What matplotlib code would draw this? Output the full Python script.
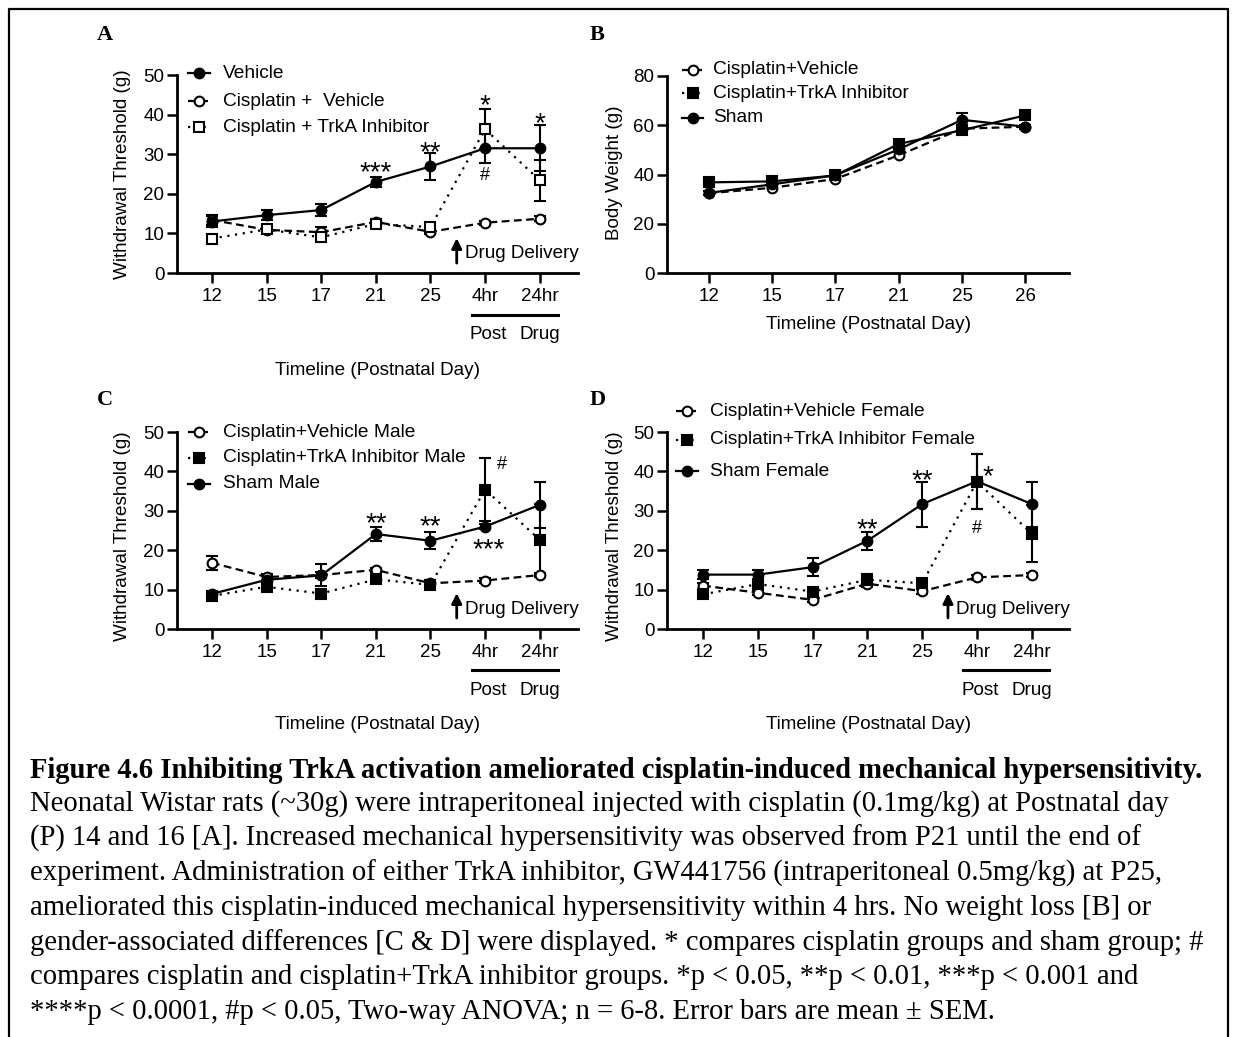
import matplotlib
matplotlib.use('Agg')
import matplotlib.pyplot as plt
from matplotlib.lines import Line2D
from matplotlib.transforms import blended_transform_factory

W, H = 1235, 1037
plt.rcParams['font.family'] = ['Liberation Sans', 'DejaVu Sans']

# ---- data ----
days_a = ['12', '15', '17', '21', '25', '4hr', '24hr']
days_b = ['12', '15', '17', '21', '25', '26']

# A: withdrawal threshold (g)
a_vehicle = [13.0, 14.6, 15.9, 23.0, 26.9, 31.5, 31.5]
a_vehicle_err = [1.5, 1.3, 1.5, 1.3, 3.3, 3.8, 5.8]
a_cis_veh = [13.4, 10.9, 10.3, 12.9, 10.4, 12.7, 13.7]
a_cis_veh_err = [1.2, 0.8, 1.3, 0.6, 0.6, 0.5, 0.6]
a_trka = [8.7, 11.0, 9.0, 12.4, 11.6, 36.3, 23.4]
a_trka_err = [0.6, 0.6, 1.0, 0.6, 0.6, 5.1, 5.1]

# B: body weight (g)
b_cis_veh = [32.4, 34.6, 38.2, 47.8, 58.6, 59.4]
b_trka = [36.8, 37.2, 39.6, 52.4, 58.0, 64.0]
b_sham = [32.5, 36.0, 39.7, 50.2, 62.2, 59.4]
b_sham_err = [0.8, 0.8, 0.6, 1.2, 2.6, 0.8]

# C: male
c_cis_veh = [16.8, 13.2, 13.7, 15.0, 11.6, 12.3, 13.7]
c_cis_veh_err = [1.7, 0.8, 0.8, 0.6, 0.8, 0.6, 0.6]
c_trka = [8.4, 10.7, 9.0, 12.6, 11.2, 35.4, 22.6]
c_trka_err = [0.6, 0.8, 1.0, 0.8, 0.8, 8.0, 9.0]
c_sham = [8.9, 12.5, 13.6, 24.1, 22.4, 26.0, 31.5]
c_sham_err = [0.6, 1.2, 2.8, 1.8, 2.2, 0.6, 5.8]

# D: female
d_cis_veh = [11.0, 9.2, 7.4, 11.5, 9.6, 13.1, 13.7]
d_cis_veh_err = [0.8, 0.6, 0.6, 0.8, 0.6, 0.6, 0.6]
d_trka = [8.8, 11.4, 9.5, 12.5, 11.6, 37.4, 24.2]
d_trka_err = [0.6, 0.8, 0.8, 1.5, 0.8, 7.0, 7.2]
d_sham = [13.8, 13.8, 15.7, 22.4, 31.7, 37.5, 31.7]
d_sham_err = [1.2, 1.2, 2.2, 2.3, 5.7, 7.0, 5.7]

# significance marks: (text, x index, y)
a_marks = [('***', 3, 26.9), ('**', 4, 32.1), ('*', 5, 44.0), ('#', 5, 24.5), ('*', 6, 39.5)]
c_marks = [('**', 3, 28.5), ('**', 4, 27.7), ('#', 5.3, 41.8), ('***', 5.06, 21.8)]
d_marks = [('**', 3, 26.8), ('**', 4, 39.2), ('*', 5.2, 40.3), ('#', 5, 25.5)]

caption_title = ("Figure 4.6 Inhibiting TrkA activation ameliorated "
                 "cisplatin-induced mechanical hypersensitivity.")
caption_lines = [
    "Neonatal Wistar rats (~30g) were intraperitoneal injected with cisplatin (0.1mg/kg) at Postnatal day",
    "(P) 14 and 16 [A]. Increased mechanical hypersensitivity was observed from P21 until the end of",
    "experiment. Administration of either TrkA inhibitor, GW441756 (intraperitoneal 0.5mg/kg) at P25,",
    "ameliorated this cisplatin-induced mechanical hypersensitivity within 4 hrs. No weight loss [B] or",
    "gender-associated differences [C & D] were displayed. * compares cisplatin groups and sham group; #",
    "compares cisplatin and cisplatin+TrkA inhibitor groups. *p < 0.05, **p < 0.01, ***p < 0.001 and",
    "****p < 0.0001, #p < 0.05, Two-way ANOVA; n = 6-8. Error bars are mean \u00b1 SEM.",
]

# ---- styles ----
DASH = (0, (3.5, 2))
DOT = (0, (1, 2.5))
solid_dot = dict(ls='-', marker='o', mfc='k', mec='k')
dash_open = dict(ls=DASH, marker='o', mfc='white', mec='k')
dot_open_sq = dict(ls=DOT, marker='s', mfc='white', mec='k')
dot_fill_sq = dict(ls=DOT, marker='s', mfc='k', mec='k')
solid_sq = dict(ls='-', marker='s', mfc='k', mec='k')

FS = 13.6  # axis text size

fig = plt.figure(figsize=(W / 100, H / 100), dpi=100)


def px_axes(left, top, right, bottom):
    return fig.add_axes([left / W, 1 - bottom / H, (right - left) / W, (bottom - top) / H])


def style_axes(ax, labels, ymax, ystep, xlim):
    ax.set_xlim(*xlim)
    ax.set_ylim(0, ymax)
    ax.set_xticks(range(len(labels)), labels)
    ax.set_yticks(range(0, ymax + 1, ystep))
    for s in ['top', 'right']:
        ax.spines[s].set_visible(False)
    for s in ['left', 'bottom']:
        ax.spines[s].set_linewidth(2)
    ax.tick_params(width=1.8, length=7, labelsize=13.5)
    ax.tick_params(axis='x', pad=3.5)
    ax.tick_params(axis='y', pad=2)


def series(ax, y, err, style):
    x = range(len(y))
    if err is not None:
        ax.errorbar(x, y, yerr=err, fmt='none', ecolor='k', elinewidth=1.5,
                    capsize=4, capthick=1.5, zorder=2)
    ax.plot(x, y, color='k', lw=1.6, ms=7, mew=1.5, zorder=3, clip_on=False, **style)


def legend(entries, x0, x1, xt, ys):
    for (label, style), y in zip(entries, ys):
        fy = 1 - y / H
        ln = Line2D([x0 / W, (x0 + x1) / 2 / W, x1 / W], [fy] * 3, transform=fig.transFigure,
                    color='k', lw=1.6, ms=7, mew=1.5, markevery=[1], **style)
        fig.add_artist(ln)
        fig.text(xt / W, fy, label, va='center', ha='left', fontsize=13.8)


def post_drug(ax, x0, x1, yl, yt):
    tr = blended_transform_factory(ax.transData, ax.transAxes)
    ax.plot([x0, x1], [yl, yl], transform=tr, clip_on=False, color='k', lw=2.2)
    ax.text(5.05, yt, 'Post', transform=tr, ha='center', va='center', fontsize=FS)
    ax.text(6.0, yt, 'Drug', transform=tr, ha='center', va='center', fontsize=FS)


def drug_delivery(ax, x, y0, y1, yt):
    ax.annotate('', xy=(x, y1), xytext=(x, y0),
                arrowprops=dict(arrowstyle='-|>,head_width=0.3,head_length=0.6',
                                lw=2, color='k', shrinkA=0, shrinkB=0))
    ax.text(x + 0.15, yt, 'Drug Delivery', ha='left', va='center', fontsize=FS)


def marks(ax, items):
    for t, x, y in items:
        if t == '#':
            ax.text(x, y, t, ha='center', va='center', fontsize=13)
        else:
            ax.text(x, y - 1.8, t, ha='center', va='center', fontsize=20)


def axis_labels(ax, ylab, yx, yy, xy):
    ax.text(yx, yy, ylab, transform=ax.transAxes, rotation=90,
            ha='center', va='center', fontsize=FS)
    ax.text(0.5, xy, 'Timeline (Postnatal Day)', transform=ax.transAxes,
            ha='center', va='center', fontsize=FS)


# ---- panel A ----
axA = px_axes(177, 75, 578, 273)
series(axA, a_cis_veh, a_cis_veh_err, dash_open)
series(axA, a_trka, a_trka_err, dot_open_sq)
series(axA, a_vehicle, a_vehicle_err, solid_dot)
style_axes(axA, days_a, 50, 10, (-0.64, 6.7))
marks(axA, a_marks)
drug_delivery(axA, 4.48, 2.5, 8.8, 5.0)
post_drug(axA, 4.76, 6.33, -0.212, -0.31)
axis_labels(axA, 'Withdrawal Threshold (g)', -0.135, 0.5, -0.49)
legend([('Vehicle', solid_dot), ('Cisplatin +  Vehicle', dash_open),
        ('Cisplatin + TrkA Inhibitor', dot_open_sq)], 188, 210, 223, [73, 101, 127])

# ---- panel B ----
axB = px_axes(667, 76, 1069, 273)
series(axB, b_cis_veh, None, dash_open)
series(axB, b_trka, None, solid_sq)
series(axB, b_sham, b_sham_err, solid_dot)
style_axes(axB, days_b, 80, 20, (-0.66, 5.69))
axis_labels(axB, 'Body Weight (g)', -0.13, 0.51, -0.259)
legend([('Cisplatin+Vehicle', dash_open), ('Cisplatin+TrkA Inhibitor', dot_fill_sq),
        ('Sham', solid_dot)], 682, 703, 713, [70, 93, 118])

# ---- panel C ----
axC = px_axes(177, 432, 578, 629)
series(axC, c_cis_veh, c_cis_veh_err, dash_open)
series(axC, c_trka, c_trka_err, dot_fill_sq)
series(axC, c_sham, c_sham_err, solid_dot)
style_axes(axC, days_a, 50, 10, (-0.64, 6.7))
marks(axC, c_marks)
drug_delivery(axC, 4.48, 2.8, 9.1, 4.9)
post_drug(axC, 4.76, 6.33, -0.208, -0.31)
axis_labels(axC, 'Withdrawal Threshold (g)', -0.135, 0.47, -0.487)
legend([('Cisplatin+Vehicle Male', dash_open), ('Cisplatin+TrkA Inhibitor Male', dot_fill_sq),
        ('Sham Male', solid_dot)], 188, 210, 223, [432, 458, 484])

# ---- panel D ----
axD = px_axes(667, 432, 1069, 629)
series(axD, d_cis_veh, d_cis_veh_err, dash_open)
series(axD, d_trka, d_trka_err, dot_fill_sq)
series(axD, d_sham, d_sham_err, solid_dot)
style_axes(axD, days_a, 50, 10, (-0.66, 6.68))
marks(axD, d_marks)
drug_delivery(axD, 4.47, 2.8, 9.1, 4.9)
post_drug(axD, 4.74, 6.31, -0.208, -0.31)
axis_labels(axD, 'Withdrawal Threshold (g)', -0.13, 0.47, -0.487)
legend([('Cisplatin+Vehicle Female', dash_open), ('Cisplatin+TrkA Inhibitor Female', dot_fill_sq),
        ('Sham Female', solid_dot)], 676, 698, 710, [411, 440, 471])

# ---- panel letters ----
for letter, x, y in [('A', 97, 35), ('B', 590, 35), ('C', 97, 400), ('D', 590, 400)]:
    fig.text(x / W, 1 - y / H, letter, family='Liberation Serif', weight='bold',
             fontsize=16, va='center', ha='left')

# ---- caption ----
fig.text(30 / W, 1 - 770 / H, caption_title, family='Liberation Serif', weight='bold',
         fontsize=20.6, va='center', ha='left')
for i, line in enumerate(caption_lines):
    fig.text(30 / W, 1 - (804 + i * 34.6) / H, line, family='Liberation Serif',
             fontsize=20.6, va='center', ha='left')

# ---- outer frame (open at the bottom) ----
fig.add_artist(Line2D([9 / W, 9 / W, 1228 / W, 1228 / W], [0, 1 - 9 / H, 1 - 9 / H, 0],
                      transform=fig.transFigure, color='k', lw=1.6))

fig.savefig('out.png', dpi=100)
